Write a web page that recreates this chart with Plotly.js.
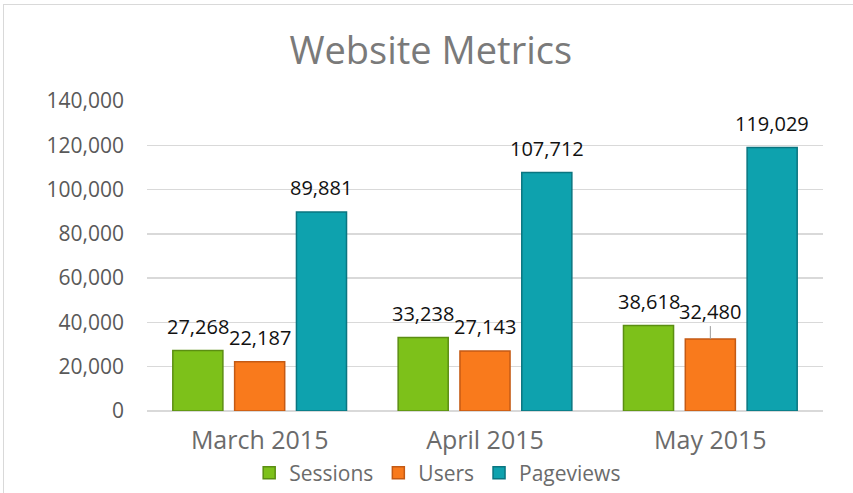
<!DOCTYPE html>
<html>
<head>
<meta charset="utf-8">
<script src="https://cdn.plot.ly/plotly-3.0.1.min.js"></script>
<style>
html,body{margin:0;padding:0;background:#fff;overflow:hidden;}
#chart{position:absolute;left:0;top:0;width:853px;height:493px;}
#frame{position:absolute;left:3px;top:4px;width:870px;height:520px;border:1.5px solid #d9d9d9;pointer-events:none;}
</style>
</head>
<body>
<div id="chart"></div>
<div id="frame"></div>
<script>
const categories = ["March 2015", "April 2015", "May 2015"];
const sessions = [27268, 33238, 38618];
const users = [22187, 27143, 32480];
const pageviews = [89881, 107712, 119029];
const seriesNames = ["Sessions", "Users", "Pageviews"];
const yTicks = [0, 20000, 40000, 60000, 80000, 100000, 120000, 140000];

const fillColors = ["#7dc11a", "#f97a1c", "#0ea2ae"];
const lineColors = ["#5b8e12", "#c45a14", "#0a7580"];
const allSeries = [sessions, users, pageviews];
const FONT = "Open Sans, Noto Sans, sans-serif";

const traces = allSeries.map((vals, i) => ({
  type: "bar",
  name: seriesNames[i],
  x: categories,
  y: vals,
  marker: {color: fillColors[i], line: {color: lineColors[i], width: 1.5}},
  hoverinfo: "skip"
}));

const fmt = v => v.toLocaleString("en-US");
const offsets = [-0.274, 0, 0.274];
const annotations = [];
allSeries.forEach((vals, i) => {
  vals.forEach((v, j) => {
    const leader = (i === 1 && j === 2);
    const a = {
      x: j + offsets[i], y: v, xref: "x", yref: "y",
      text: fmt(v),
      font: {family: FONT, size: 20, color: "#111"},
      showarrow: false
    };
    if (leader) {
      a.showarrow = true; a.ax = 0; a.ay = -28; a.arrowhead = 0;
      a.arrowwidth = 1; a.arrowcolor = "#999"; a.standoff = 0;
    } else {
      a.yanchor = "middle"; a.yshift = 24;
    }
    annotations.push(a);
  });
});

const layout = {
  width: 853, height: 493,
  margin: {l: 147, r: 30, t: 101, b: 82, autoexpand: false},
  paper_bgcolor: "rgba(0,0,0,0)",
  plot_bgcolor: "#fff",
  title: {text: "Website Metrics", x: 0.505, xanchor: "center", y: 0.898, yanchor: "middle",
          font: {family: FONT, size: 38, color: "#7a7a7a"}},
  barmode: "group",
  bargap: 0.177,
  bargroupgap: 0.19,
  showlegend: true,
  legend: {orientation: "h", x: 0.43, xanchor: "center", y: -0.2, yanchor: "middle",
           font: {family: FONT, size: 21, color: "#6b6b6b"},
           itemwidth: 30, traceorder: "normal"},
  xaxis: {type: "category", showgrid: false, showline: false, zeroline: false,
          ticks: "", ticklabelstandoff: 12,
          tickfont: {family: FONT, size: 25, color: "#6b6b6b"}},
  yaxis: {range: [0, 140000], tickvals: yTicks, ticktext: yTicks.map(fmt),
          showgrid: true, gridcolor: "#d9d9d9", gridwidth: 1.5,
          zeroline: true, zerolinecolor: "#d9d9d9", zerolinewidth: 1.5,
          showline: false, ticks: "", ticklabelstandoff: 22,
          tickfont: {family: FONT, size: 21, color: "#595959"}},
  annotations: annotations
};

Plotly.newPlot("chart", traces, layout, {staticPlot: true, displayModeBar: false});
</script>
</body>
</html>
